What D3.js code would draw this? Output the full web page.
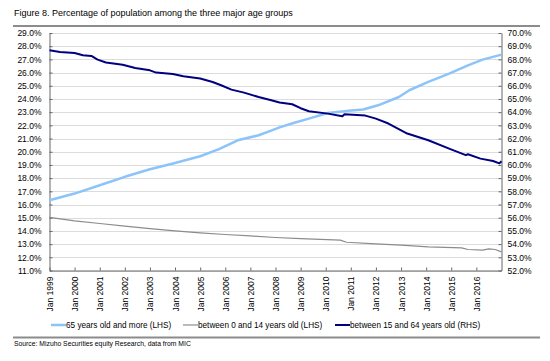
<!DOCTYPE html>
<html>
<head>
<meta charset="utf-8">
<script src="https://cdn.jsdelivr.net/npm/d3@7"></script>
<style>
  body { margin: 0; background: #fff; }
  text { font-family: "Liberation Sans", Arial, sans-serif; fill: #000; }
</style>
</head>
<body>
<svg id="chart" width="550" height="361"></svg>
<script>

var title = "Figure 8. Percentage of population among the three major age groups";
var source = "Source: Mizuho Securities equity Research, data from MIC";

var seriesNames = ["65 years old and more (LHS)", "between 0 and 14 years old (LHS)", "between 15 and 64 years old (RHS)"];

// 65 and over, left axis
var oldDates = ["1999-01","2000-01","2001-01","2002-01","2003-01","2004-01","2005-01","2005-10","2006-07","2007-05",
  "2007-10","2008-03","2008-10","2009-05","2010-02","2010-12","2011-07","2012-02","2012-12","2013-05",
  "2014-02","2014-12","2015-09","2016-04","2017-01"];
var oldValues = [16.33,16.83,17.46,18.10,18.67,19.15,19.66,20.20,20.87,21.25,
  21.55,21.85,22.20,22.51,22.94,23.10,23.20,23.52,24.15,24.66,
  25.29,25.92,26.55,26.98,27.36];

// 0 to 14, left axis
var youngDates = ["1999-01","2000-01","2001-01","2002-01","2003-01","2004-01","2005-01","2006-01","2007-01","2008-01",
  "2009-01","2010-08","2010-11","2012-01","2013-01","2014-02","2015-06","2015-09","2016-04","2016-07",
  "2016-10","2017-01"];
var youngValues = [15.02,14.76,14.56,14.36,14.18,14.00,13.85,13.73,13.62,13.50,
  13.42,13.30,13.14,13.02,12.92,12.79,12.71,12.59,12.54,12.64,
  12.59,12.41];

// 15 to 64, right axis
var workDates = ["1999-01","1999-06","2000-01","2000-05","2000-09","2000-12","2001-04","2001-12","2002-06","2003-01",
  "2003-04","2003-12","2004-05","2005-01","2005-07","2005-11","2006-04","2006-10","2007-05","2007-11",
  "2008-03","2008-09","2009-01","2009-05","2010-02","2010-09","2010-10","2011-08","2012-01","2012-07",
  "2013-04","2014-02","2014-12","2015-08","2015-09","2016-03","2016-09","2016-12","2017-01"];
var workValues = [68.69,68.56,68.48,68.31,68.26,67.98,67.76,67.60,67.35,67.17,
  67.00,66.90,66.72,66.55,66.29,66.04,65.71,65.48,65.15,64.90,
  64.73,64.60,64.30,64.07,63.89,63.69,63.84,63.74,63.51,63.14,
  62.38,61.87,61.24,60.74,60.81,60.48,60.30,60.12,60.28];

var leftTicks = d3.range(11, 29.5, 1);
var rightTicks = d3.range(52, 70.5, 1);
var tickYears = d3.range(1999, 2017);

var colors = ["#8cc4fa", "#8c8c8c", "#000080"];
var widths = [2.5, 1.2, 2];

var svg = d3.select("#chart");
var parse = d3.timeParse("%Y-%m");

var plot = { left: 49.5, right: 501.5, top: 33, bottom: 270.5 };

var x = d3.scaleTime()
  .domain([parse("1999-01"), parse("2017-01")])
  .range([plot.left, plot.right]);
var yL = d3.scaleLinear().domain([11, 29]).range([plot.bottom, plot.top]);
var yR = d3.scaleLinear().domain([52, 70]).range([plot.bottom, plot.top]);

// title and rules
svg.append("text")
  .attr("x", 14).attr("y", 16)
  .style("font-size", "9px")
  .text(title);
svg.append("line")
  .attr("x1", 13).attr("x2", 540).attr("y1", 26).attr("y2", 26)
  .attr("stroke", "#8c8c8c").attr("stroke-width", 2);
svg.append("line")
  .attr("x1", 13).attr("x2", 540).attr("y1", 337.5).attr("y2", 337.5)
  .attr("stroke", "#8c8c8c").attr("stroke-width", 2);
svg.append("text")
  .attr("x", 14).attr("y", 346)
  .style("font-size", "6.8px")
  .text(source);

// gridlines
svg.append("g")
  .selectAll("line")
  .data(leftTicks)
  .enter().append("line")
    .attr("x1", plot.left).attr("x2", plot.right)
    .attr("y1", function(d) { return Math.round(yL(d)) + 0.5; })
    .attr("y2", function(d) { return Math.round(yL(d)) + 0.5; })
    .attr("stroke", "#dcdcdc");

// axes
var leftAxis = svg.append("g")
  .attr("transform", "translate(" + plot.left + ",0)")
  .call(d3.axisLeft(yL).tickValues(leftTicks).tickSizeInner(-3).tickSizeOuter(0).tickPadding(8)
    .tickFormat(function(d) { return d.toFixed(1) + "%"; }));
var rightAxis = svg.append("g")
  .attr("transform", "translate(" + plot.right + ",0)")
  .call(d3.axisRight(yR).tickValues(rightTicks).tickSizeInner(-3).tickSizeOuter(0).tickPadding(6)
    .tickFormat(function(d) { return d.toFixed(1) + "%"; }));
var bottomAxis = svg.append("g")
  .attr("transform", "translate(0," + plot.bottom + ")")
  .call(d3.axisBottom(x).tickValues(tickYears.map(function(yr) { return new Date(yr, 0, 1); }))
    .tickSizeInner(-3).tickSizeOuter(0).tickFormat(d3.timeFormat("Jan %Y")));

bottomAxis.selectAll("text")
  .attr("transform", "rotate(-90)")
  .attr("text-anchor", "end")
  .attr("x", -6).attr("y", 0).attr("dy", "0.35em");

[leftAxis, rightAxis, bottomAxis].forEach(function(g) {
  g.selectAll("text").style("font-size", "8.5px").style("font-family", "Liberation Sans, Arial, sans-serif").attr("fill", "#000");
  g.selectAll("line").attr("stroke", "#666");
  g.select(".domain").attr("stroke", "#666");
});

// lines
var series = [
  { dates: oldDates, values: oldValues, y: yL },
  { dates: youngDates, values: youngValues, y: yL },
  { dates: workDates, values: workValues, y: yR }
];

series.forEach(function(s, i) {
  var pts = s.dates.map(function(d, j) { return [parse(d), s.values[j]]; });
  var line = d3.line()
    .x(function(p) { return x(p[0]); })
    .y(function(p) { return s.y(p[1]); });
  svg.append("path")
    .datum(pts)
    .attr("fill", "none")
    .attr("stroke", colors[i])
    .attr("stroke-width", widths[i])
    .attr("stroke-linejoin", "round")
    .attr("d", line);
});

// legend
var legendX = [51, 183, 335];
var legend = svg.append("g").selectAll("g")
  .data(seriesNames)
  .enter().append("g")
    .attr("transform", function(d, i) { return "translate(" + legendX[i] + ",325)"; });
legend.append("line")
  .attr("x1", 0).attr("x2", 15)
  .attr("stroke", function(d, i) { return colors[i]; })
  .attr("stroke-width", function(d, i) { return widths[i]; });
legend.append("text")
  .attr("x", 15).attr("dy", "0.35em")
  .style("font-size", "8.2px")
  .text(function(d) { return d; });

</script>
</body>
</html>
